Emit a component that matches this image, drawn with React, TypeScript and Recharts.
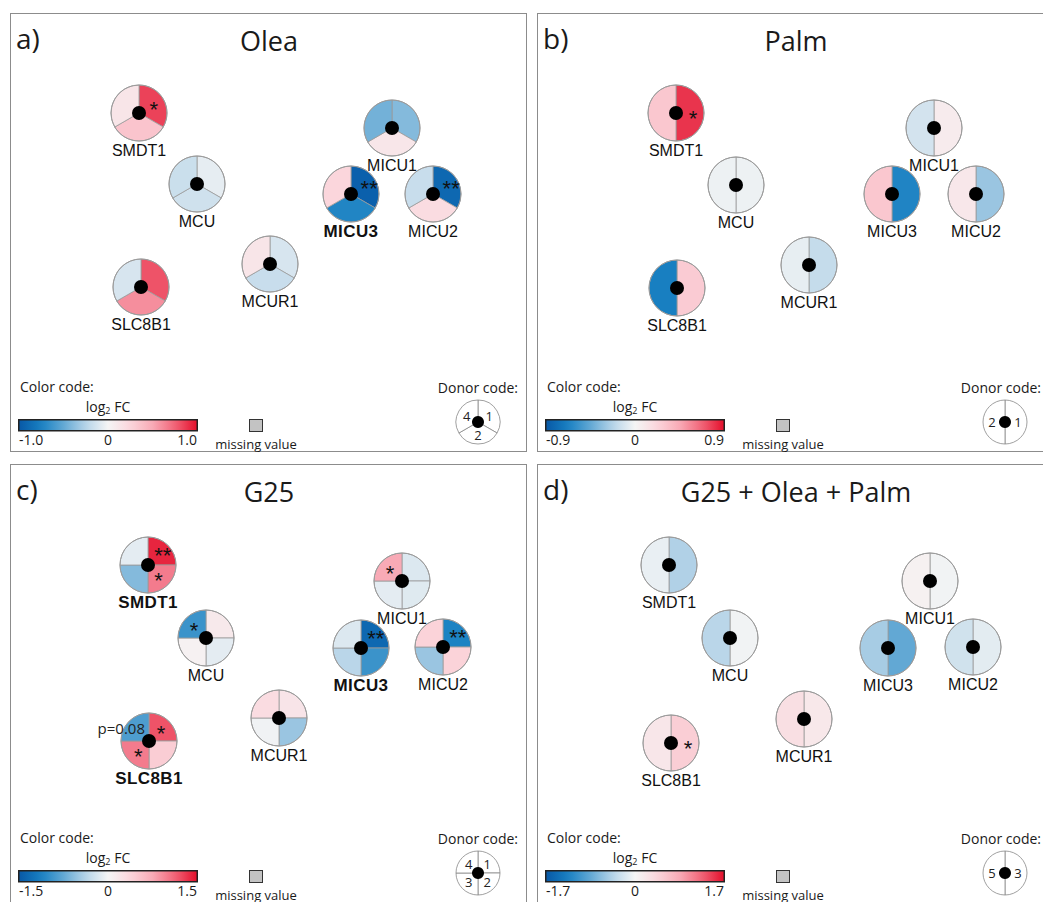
import React from "react";
import { ScatterChart, Scatter, XAxis, YAxis, Sector, PieChart, Pie, Cell } from "recharts";

const GENES = ["SMDT1", "MCU", "MICU1", "MICU3", "MICU2", "MCUR1", "SLC8B1"];

// node layout inside each panel (panel pixel units)
const OLEA_X = [128, 186, 381, 340, 422, 259, 130];
const OLEA_Y = [99, 170, 114, 180, 180, 250, 273];
const PALM_X = [138, 198, 396, 354, 438, 271, 139];
const PALM_Y = [99, 171, 114, 180, 180, 251, 274];
const G25_X = [137, 195, 391, 350, 432, 268, 138];
const G25_Y = [100, 173, 116, 183, 182, 253, 276];
const ALL_X = [131, 192, 392, 350, 435, 266, 133];
const ALL_Y = [100, 173, 116, 183, 182, 254, 278];

// donors, clockwise from 12 o'clock
const OLEA_DONORS = ["1", "2", "4"];
const PALM_DONORS = ["1", "2"];
const G25_DONORS = ["1", "2", "3", "4"];
const ALL_DONORS = ["3", "5"];

// log2 FC per gene (GENES order) and donor
const OLEA_FC = [
  [0.85, 0.35, 0.13],
  [-0.06, -0.15, -0.17],
  [-0.4, 0.12, -0.45],
  [-0.95, -0.72, 0.25],
  [-0.9, 0.2, -0.18],
  [-0.12, -0.18, 0.13],
  [0.8, 0.6, -0.12],
];
const OLEA_SIG = [["*", "", ""], ["", "", ""], ["", "", ""], ["**", "", ""], ["**", "", ""], ["", "", ""], ["", "", ""]];

const PALM_FC = [
  [0.8, 0.3],
  [-0.03, -0.03],
  [0.07, -0.12],
  [-0.65, 0.3],
  [-0.3, 0.1],
  [-0.17, -0.05],
  [0.28, -0.68],
];
const PALM_SIG = [["*", ""], ["", ""], ["", ""], ["", ""], ["", ""], ["", ""], ["", ""]];

const G25_FC = [
  [1.4, 1.0, -0.6, -0.1],
  [0.15, -0.1, 0.05, -0.95],
  [-0.15, -0.13, -0.1, 0.75],
  [-1.35, -0.95, -0.35, -0.15],
  [-1.1, 0.4, -0.5, 0.4],
  [0.2, -0.5, -0.03, 0.3],
  [1.2, 0.45, 1.0, -0.85],
];
const G25_SIG = [
  ["**", "*", "", ""],
  ["", "", "", "*"],
  ["", "", "", "*"],
  ["**", "", "", ""],
  ["**", "", "", ""],
  ["", "", "", ""],
  ["*", "", "*", ""],
];

const ALL_FC = [
  [-0.45, -0.08],
  [-0.03, -0.4],
  [-0.03, 0.06],
  [-0.85, -0.5],
  [-0.12, -0.25],
  [0.18, 0.3],
  [0.5, 0.2],
];
const ALL_SIG = [["", ""], ["", ""], ["", ""], ["", ""], ["", ""], ["", ""], ["*", ""]];

const OLEA_BOLD = ["MICU3"];
const G25_BOLD = ["SMDT1", "MICU3", "SLC8B1"];

const RANGE_TICKS_A = ["-1.0", "0", "1.0"];
const RANGE_TICKS_B = ["-0.9", "0", "0.9"];
const RANGE_TICKS_C = ["-1.5", "0", "1.5"];
const RANGE_TICKS_D = ["-1.7", "0", "1.7"];

const G25_NOTES = [{ gene: "SLC8B1", text: "p=0.08" }];

const COLOR_STOPS: [number, number[]][] = [
  [-1, [8, 88, 166]],
  [-0.75, [24, 128, 194]],
  [-0.5, [98, 168, 212]],
  [-0.25, [182, 212, 232]],
  [0, [245, 245, 245]],
  [0.25, [251, 214, 220]],
  [0.5, [248, 170, 182]],
  [0.75, [240, 100, 120]],
  [1, [228, 14, 42]],
];

function fcColor(v: number, range: number) {
  const t = Math.max(-1, Math.min(1, v / range));
  for (let i = 0; i < COLOR_STOPS.length - 1; i++) {
    const [t0, c0] = COLOR_STOPS[i];
    const [t1, c1] = COLOR_STOPS[i + 1];
    if (t <= t1) {
      const f = (t - t0) / (t1 - t0);
      const c = c0.map((a, k) => Math.round(a + (c1[k] - a) * f));
      return `rgb(${c[0]},${c[1]},${c[2]})`;
    }
  }
  return "rgb(228,14,42)";
}

const ANGLES: Record<number, number[][]> = {
  2: [[90, -90], [-90, -270]],
  3: [[90, -30], [-30, -150], [-150, -270]],
  4: [[90, 0], [0, -90], [-90, -180], [-180, -270]],
};

const R = 28;
const W = 517;
const H = 438;
const RAD = Math.PI / 180;
const SANS = "'Liberation Sans', Arial, sans-serif";
const MYRIAD = "'Open Sans', sans-serif";

function PieNode(props: any) {
  const { cx, cy, payload } = props;
  const segs = ANGLES[payload.fc.length];
  return (
    <g>
      {payload.fc.map((v: number, i: number) => (
        <Sector
          key={i}
          cx={cx}
          cy={cy}
          innerRadius={0}
          outerRadius={R}
          startAngle={segs[i][0]}
          endAngle={segs[i][1]}
          fill={fcColor(v, payload.range)}
          stroke="#9a9a9a"
          strokeWidth={0.8}
        />
      ))}
      <circle cx={cx} cy={cy} r={R} fill="none" stroke="#9a9a9a" strokeWidth={1} />
      <circle cx={cx} cy={cy} r={7} fill="#000" />
      {payload.sig.map((s: string, i: number) => {
        if (!s) return null;
        const mid = (segs[i][0] + segs[i][1]) / 2;
        const low = Math.sin(mid * RAD) < -0.3;
        const r = (low ? 15 : 17) + (s.length - 1) * 4;
        const x = cx + r * Math.cos(mid * RAD);
        const y = cy - r * Math.sin(mid * RAD);
        return (
          <text key={"s" + i} x={x} y={y + 12.5} textAnchor="middle" fontSize={22} fontFamily={SANS} fill="#111">
            {s}
          </text>
        );
      })}
    </g>
  );
}

function NodeLabel(props: any) {
  const { cx, cy, payload } = props;
  return (
    <g>
      <text
        x={cx}
        y={cy + 43}
        textAnchor="middle"
        fontSize={payload.bold ? 17 : 16}
        fontFamily={SANS}
        fontWeight={payload.bold ? 900 : 400}
        letterSpacing={payload.bold ? 0.4 : 0}
        fill="#111"
      >
        {payload.gene}
      </text>
      {payload.note && (
        <text x={cx - 4} y={cy - 7} textAnchor="end" fontSize={15} fontFamily={MYRIAD} fill="#222">
          {payload.note}
        </text>
      )}
    </g>
  );
}

function Txt({ x, y, anchor = "middle", size = 14, children }: any) {
  const tx = anchor === "middle" ? "-50%" : anchor === "end" ? "-100%" : "0";
  return (
    <div
      style={{
        position: "absolute",
        left: x,
        top: y,
        transform: `translate(${tx}, -50%)`,
        fontFamily: MYRIAD,
        fontSize: size,
        lineHeight: 1,
        whiteSpace: "nowrap",
        color: "#1a1a1a",
      }}
    >
      {children}
    </div>
  );
}

function DonorKey({ donors }: { donors: string[] }) {
  const data = donors.map((d) => ({ name: d, value: 1 }));
  const renderLabel = (p: any) => {
    const r = 13;
    const x = p.cx + r * Math.cos(-p.midAngle * RAD);
    const y = p.cy + r * Math.sin(-p.midAngle * RAD);
    return (
      <text x={x} y={y} textAnchor="middle" dominantBaseline="central" fontSize={13} fontFamily={MYRIAD} fill="#222">
        {p.name}
      </text>
    );
  };
  return (
    <PieChart width={50} height={50} margin={{ top: 0, right: 0, bottom: 0, left: 0 }}>
      <Pie
        data={data}
        dataKey="value"
        cx="50%"
        cy="50%"
        outerRadius={22}
        startAngle={90}
        endAngle={-270}
        stroke="#888"
        strokeWidth={0.8}
        label={renderLabel}
        labelLine={false}
        isAnimationActive={false}
      >
        {data.map((d, i) => (
          <Cell key={i} fill="#fff" />
        ))}
      </Pie>
      <Pie
        data={[{ value: 1 }]}
        dataKey="value"
        cx="50%"
        cy="50%"
        outerRadius={6}
        fill="#000"
        stroke="none"
        isAnimationActive={false}
      />
    </PieChart>
  );
}

function Panel({ p }: { p: any }) {
  const nodes = GENES.map((g, i) => ({
    gene: g,
    x: p.nx[i],
    y: p.ny[i],
    fc: p.fc[i],
    sig: p.sig[i],
    range: p.range,
    bold: p.bold.includes(g),
    note: (p.notes.find((n: any) => n.gene === g) || {}).text,
  }));
  const stops = Array.from({ length: 21 }, (_, i) => -1 + i / 10);
  const gradId = "grad-" + p.id;
  return (
    <div
      style={{
        position: "absolute",
        left: p.left,
        top: p.top,
        width: W,
        height: p.h,
        border: "1px solid #8c8c8c",
        boxSizing: "border-box",
        background: "#fff",
      }}
    >
      <div style={{ position: "absolute", left: 0, top: 0 }}>
        <ScatterChart width={W} height={H} margin={{ top: 0, right: 0, bottom: 0, left: 0 }}>
          <XAxis type="number" dataKey="x" domain={[0, W]} hide />
          <YAxis type="number" dataKey="y" domain={[0, H]} reversed hide />
          <Scatter data={nodes} shape={PieNode} isAnimationActive={false} />
          <Scatter data={nodes} shape={NodeLabel} isAnimationActive={false} />
        </ScatterChart>
      </div>
      <Txt x={5} y={24} anchor="start" size={28}>{p.letter}</Txt>
      <Txt x={258} y={26} size={27}>{p.title}</Txt>

      <Txt x={9} y={373} anchor="start" size={14}>Color code:</Txt>
      <Txt x={97} y={393} size={14}>
        log<sub style={{ fontSize: 9, verticalAlign: "-2px" }}>2</sub> FC
      </Txt>
      <svg width={180} height={13} style={{ position: "absolute", left: 7, top: 405 }}>
        <defs>
          <linearGradient id={gradId} x1="0" x2="1" y1="0" y2="0">
            {stops.map((t, i) => (
              <stop key={i} offset={i / 20} stopColor={fcColor(t, 1)} />
            ))}
          </linearGradient>
        </defs>
        <rect x={0.75} y={0.75} width={178.5} height={11} fill={`url(#${gradId})`} stroke="#222" strokeWidth={1.5} />
      </svg>
      <Txt x={8} y={426} anchor="start" size={14}>{p.ticks[0]}</Txt>
      <Txt x={97} y={426} size={14}>{p.ticks[1]}</Txt>
      <Txt x={186} y={426} anchor="end" size={14}>{p.ticks[2]}</Txt>
      <div
        style={{
          position: "absolute",
          left: 238,
          top: 405,
          width: 12,
          height: 11,
          background: "#c3c3c3",
          border: "1px solid #333",
        }}
      />
      <Txt x={245} y={430} size={13}>missing value</Txt>

      <Txt x={p.donorTextX} y={374} anchor="end" size={14}>Donor code:</Txt>
      <div style={{ position: "absolute", left: 442, top: 383 }}>
        <DonorKey donors={p.donors} />
      </div>
    </div>
  );
}

const PANELS = [
  { id: "a", letter: "a)", title: "Olea", left: 10, top: 13, h: 439, donorTextX: 507, range: 1.0, ticks: RANGE_TICKS_A, donors: OLEA_DONORS, fc: OLEA_FC, sig: OLEA_SIG, bold: OLEA_BOLD, nx: OLEA_X, ny: OLEA_Y, notes: [] },
  { id: "b", letter: "b)", title: "Palm", left: 537, top: 13, h: 439, donorTextX: 503, range: 0.9, ticks: RANGE_TICKS_B, donors: PALM_DONORS, fc: PALM_FC, sig: PALM_SIG, bold: [], nx: PALM_X, ny: PALM_Y, notes: [] },
  { id: "c", letter: "c)", title: "G25", left: 10, top: 464, h: 445, donorTextX: 507, range: 1.5, ticks: RANGE_TICKS_C, donors: G25_DONORS, fc: G25_FC, sig: G25_SIG, bold: G25_BOLD, nx: G25_X, ny: G25_Y, notes: G25_NOTES },
  { id: "d", letter: "d)", title: "G25 + Olea + Palm", left: 537, top: 464, h: 445, donorTextX: 503, range: 1.7, ticks: RANGE_TICKS_D, donors: ALL_DONORS, fc: ALL_FC, sig: ALL_SIG, bold: [], nx: ALL_X, ny: ALL_Y, notes: [] },
];

export default function App() {
  return (
    <div
      style={{
        position: "absolute",
        left: 0,
        top: 0,
        width: 1043,
        height: 902,
        overflow: "hidden",
        background: "#fff",
      }}
    >
      {PANELS.map((p) => (
        <Panel key={p.id} p={p} />
      ))}
    </div>
  );
}
